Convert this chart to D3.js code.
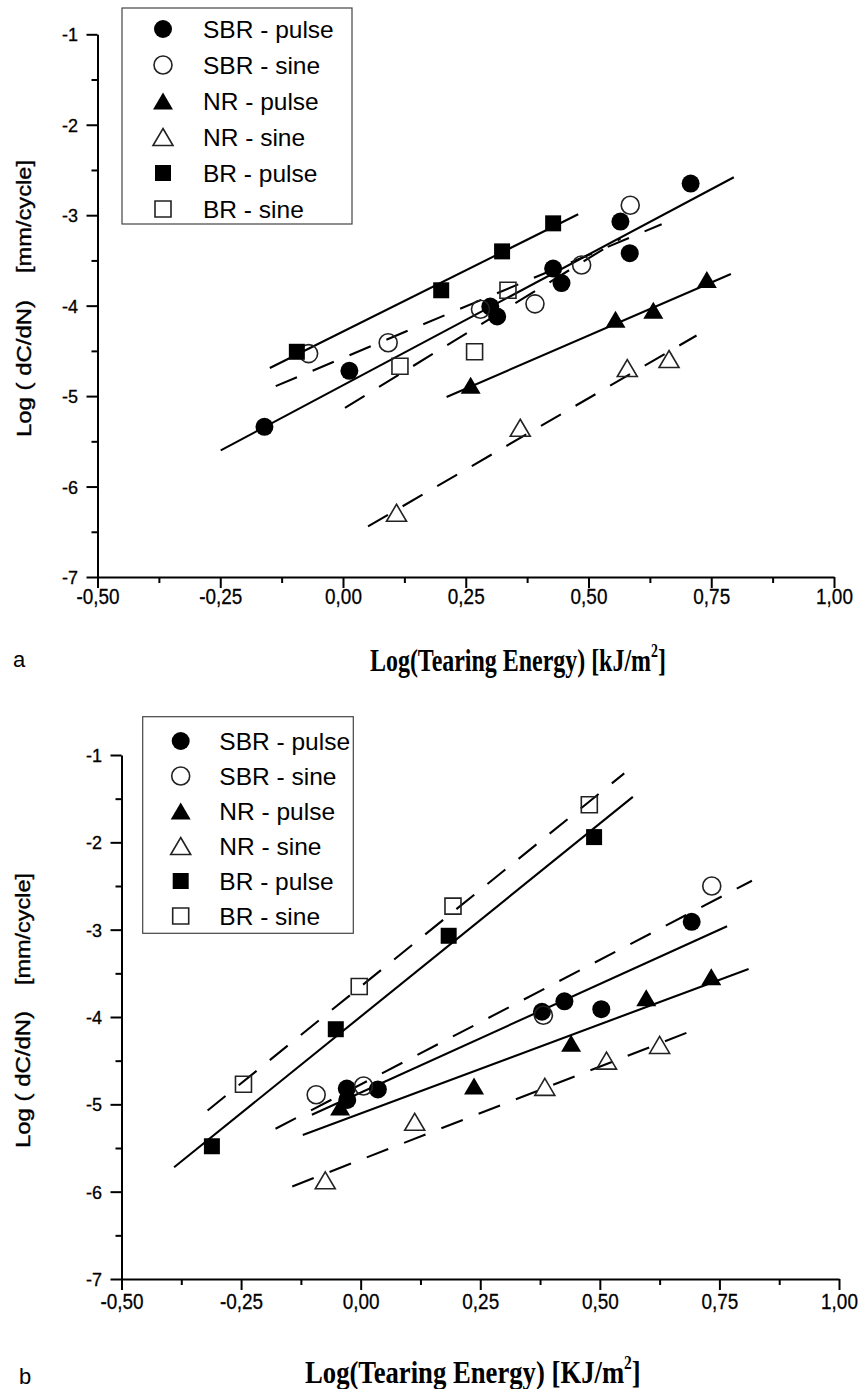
<!DOCTYPE html>
<html><head><meta charset="utf-8">
<script src="https://cdn.jsdelivr.net/npm/d3@7"></script>
<style>body{margin:0;background:#fff} svg{display:block}</style>
</head><body>
<svg id="chart" width="858" height="1389"></svg>
<script>
// ---------- series definitions ----------
const seriesNames  = ["SBR - pulse","SBR - sine","NR - pulse","NR - sine","BR - pulse","BR - sine"];
const seriesShapes = ["circle","circle","triangle","triangle","square","square"];
const seriesFilled = [true,false,true,false,true,false];
const seriesDashed = [false,true,false,true,false,true];

// ---------- axis ticks ----------
const xTicks = [-0.5,-0.25,0,0.25,0.5,0.75,1.0];
const xMinorTicks = [-0.375,-0.125,0.125,0.375,0.625,0.875];
const yTicks = [-7,-6,-5,-4,-3,-2,-1];
const yMinorTicks = [-6.5,-5.5,-4.5,-3.5,-2.5,-1.5];

// ---------- panel a data [log TE, log dC/dN] ----------
const aSBRpulse = [[-0.160,-5.34],[0.013,-4.72],[0.300,-4.01],[0.314,-4.12],[0.428,-3.59],[0.445,-3.75],[0.565,-3.07],[0.584,-3.42],[0.708,-2.65]];
const aSBRsine  = [[-0.070,-4.53],[0.092,-4.41],[0.280,-4.04],[0.391,-3.98],[0.486,-3.55],[0.585,-2.89]];
const aNRpulse  = [[0.260,-4.88],[0.555,-4.15],[0.632,-4.05],[0.741,-3.71]];
const aNRsine   = [[0.109,-6.29],[0.361,-5.35],[0.579,-4.69],[0.664,-4.59]];
const aBRpulse  = [[-0.094,-4.51],[0.200,-3.83],[0.324,-3.40],[0.428,-3.09]];
const aBRsine   = [[0.116,-4.67],[0.268,-4.51],[0.336,-3.83]];
// fitted lines [x0,y0,x1,y1]
const aFitSBRpulse = [-0.249,-5.60,0.796,-2.58];
const aFitSBRsine  = [-0.137,-4.89,0.649,-3.10];
const aFitNRpulse  = [0.211,-5.01,0.790,-3.65];
const aFitNRsine   = [0.051,-6.44,0.720,-4.33];
const aFitBRpulse  = [-0.149,-4.69,0.479,-2.99];
const aFitBRsine   = [0.004,-5.13,0.565,-3.26];

// ---------- panel b data ----------
const bSBRpulse = [[-0.029,-4.82],[-0.028,-4.95],[0.036,-4.83],[0.379,-3.94],[0.426,-3.82],[0.503,-3.91],[0.692,-2.91]];
const bSBRsine  = [[-0.093,-4.89],[0.006,-4.79],[0.382,-3.98],[0.734,-2.50]];
const bNRpulse  = [[-0.043,-5.03],[0.237,-4.79],[0.440,-4.30],[0.597,-3.78],[0.733,-3.54]];
const bNRsine   = [[-0.074,-5.87],[0.113,-5.20],[0.385,-4.80],[0.514,-4.50],[0.625,-4.32]];
const bBRpulse  = [[-0.311,-5.48],[-0.052,-4.14],[0.184,-3.07],[0.488,-1.94]];
const bBRsine   = [[-0.245,-4.77],[-0.003,-3.65],[0.193,-2.73],[0.478,-1.57]];
const bFitSBRpulse = [-0.102,-5.12,0.766,-2.96];
const bFitSBRsine  = [-0.178,-5.28,0.818,-2.44];
const bFitNRpulse  = [-0.121,-5.35,0.811,-3.45];
const bFitNRsine   = [-0.143,-5.94,0.696,-4.15];
const bFitBRpulse  = [-0.390,-5.72,0.569,-1.48];
const bFitBRsine   = [-0.320,-5.07,0.551,-1.21];

const svg = d3.select("#chart");
const SANS = "'Liberation Sans', Arial, Helvetica, sans-serif";
const SERIF = "'Liberation Serif', 'Times New Roman', serif";

function markerPath(shape){
  if (shape === "circle") return d3.symbol().type(d3.symbolCircle).size(Math.PI*9*9)();
  if (shape === "square") return d3.symbol().type(d3.symbolSquare).size(16*16)();
  const w = 20, h = 17;
  return `M0,${-h/2}L${w/2},${h/2}L${-w/2},${h/2}Z`;
}
function styleMarker(sel, i){
  if (seriesFilled[i]) sel.attr("fill","#000").attr("stroke","none");
  else sel.attr("fill","none").attr("stroke","#222").attr("stroke-width",1.6);
}
const fmtX = d => (d < 0 ? "-" : "") + Math.abs(d).toFixed(2).replace(".", ",");
const fmtY = d => String(d);

function drawPanel(p){
  const x = d3.scaleLinear().domain([-0.5,1.0]).range(p.xr);
  const y = d3.scaleLinear().domain([-7,-1]).range(p.yr);
  const g = svg.append("g");

  // fit lines
  p.fits.forEach((f,i)=>{
    g.append("line")
      .attr("x1",x(f[0])).attr("y1",y(f[1])).attr("x2",x(f[2])).attr("y2",y(f[3]))
      .attr("stroke","#000").attr("stroke-width",2.1)
      .attr("stroke-dasharray", seriesDashed[i] ? "23,17" : null);
  });
  // markers
  p.points.forEach((pts,i)=>{
    g.append("g").selectAll("path").data(pts).join("path")
      .attr("d", markerPath(seriesShapes[i]))
      .attr("transform", d=>`translate(${x(d[0])},${y(d[1])})`)
      .call(styleMarker, i);
  });

  // x axis
  const gx = g.append("g").attr("transform",`translate(0,${p.yr[0]})`)
    .call(d3.axisBottom(x).tickValues(xTicks).tickSize(11).tickSizeOuter(0).tickFormat(fmtX));
  gx.select(".domain").attr("stroke-width",2);
  gx.selectAll(".tick line").attr("stroke-width",2);
  gx.selectAll(".tick text").attr("y",p.xLabelDy).attr("dy",null)
    .attr("font-size",22).attr("font-family",SANS).attr("fill","#000")
    .attr("stroke","#000").attr("stroke-width",0.3)
    .attr("transform","scale(0.86,1)");
  const gxm = g.append("g").attr("transform",`translate(0,${p.yr[0]})`)
    .call(d3.axisBottom(x).tickValues(xMinorTicks).tickSize(6).tickFormat(""));
  gxm.select(".domain").remove();
  gxm.selectAll(".tick line").attr("stroke-width",2);

  // y axis
  const gy = g.append("g").attr("transform",`translate(${p.xr[0]},0)`)
    .call(d3.axisLeft(y).tickValues(yTicks).tickSize(11).tickSizeOuter(0).tickPadding(8.5).tickFormat(fmtY));
  gy.select(".domain").attr("stroke-width",2);
  gy.selectAll(".tick line").attr("stroke-width",2);
  gy.selectAll(".tick text").attr("font-size",18).attr("font-family",SANS).attr("fill","#000")
    .attr("stroke","#000").attr("stroke-width",0.3).attr("dy","0.36em");
  const gym = g.append("g").attr("transform",`translate(${p.xr[0]},0)`)
    .call(d3.axisLeft(y).tickValues(yMinorTicks).tickSize(6).tickFormat(""));
  gym.select(".domain").remove();
  gym.selectAll(".tick line").attr("stroke-width",2);

  // legend
  const L = p.legend;
  g.append("rect").attr("x",L.x0).attr("y",L.y0).attr("width",L.x1-L.x0).attr("height",L.y1-L.y0)
    .attr("fill","#fff").attr("stroke","#444").attr("stroke-width",1.2);
  seriesNames.forEach((name,i)=>{
    const cy = L.row0 + i*L.step;
    g.append("path").attr("d",markerPath(seriesShapes[i]))
      .attr("transform",`translate(${L.mx},${cy})`).call(styleMarker,i);
    g.append("text").attr("x",L.tx).attr("y",cy+9).text(name)
      .attr("font-size",24.5).attr("font-family",SANS).attr("fill","#000");
  });

  // y title (rotated)
  p.yTitle.forEach(t=>{
    g.append("text").attr("transform",`translate(${t.bx},${t.sy}) rotate(-90)`)
      .attr("font-size",21).attr("font-family",SANS).attr("fill","#000")
      .attr("stroke","#000").attr("stroke-width",0.4)
      .attr("textLength",t.len).attr("lengthAdjust","spacingAndGlyphs")
      .text(t.txt);
  });

  // x title
  const xt = g.append("text").attr("font-family",SERIF).attr("font-weight","bold")
    .attr("font-size",31).attr("fill","#000");
  xt.append("tspan").text(p.xTitle);
  xt.append("tspan").attr("font-size",18).attr("dy",-14).text("2");
  xt.append("tspan").attr("dy",14).text("]");
  const w = xt.node().getBBox().width;
  xt.attr("transform",`translate(${p.xTitleX0},${p.xTitleBase}) scale(${p.xTitleW / w},1)`);

  // panel letter
  g.append("text").attr("x",p.letterX).attr("y",p.letterY).text(p.letter)
    .attr("font-size",22).attr("font-family",SANS).attr("fill","#000");
}

drawPanel({
  xr:[97.5,834], yr:[577,34.3], xLabelDy:27,
  points:[aSBRpulse,aSBRsine,aNRpulse,aNRsine,aBRpulse,aBRsine],
  fits:[aFitSBRpulse,aFitSBRsine,aFitNRpulse,aFitNRsine,aFitBRpulse,aFitBRsine],
  legend:{x0:122,y0:8,x1:352,y1:224,mx:163,tx:203,row0:29,step:36},
  yTitle:[{txt:"Log ( dC/dN)",bx:31,sy:437,len:137},{txt:"[mm/cycle]",bx:31,sy:273,len:113}],
  xTitle:"Log(Tearing Energy) [kJ/m", xTitleX0:370, xTitleBase:671, xTitleW:296,
  letter:"a", letterX:13, letterY:667
});
drawPanel({
  xr:[121.5,839], yr:[1279,755], xLabelDy:30,
  points:[bSBRpulse,bSBRsine,bNRpulse,bNRsine,bBRpulse,bBRsine],
  fits:[bFitSBRpulse,bFitSBRsine,bFitNRpulse,bFitNRsine,bFitBRpulse,bFitBRsine],
  legend:{x0:142.7,y0:716.7,x1:353.3,y1:933.3,mx:180.7,tx:219.3,row0:741,step:35},
  yTitle:[{txt:"Log ( dC/dN)",bx:30,sy:1148,len:137},{txt:"[mm/cycle]",bx:30,sy:985,len:112}],
  xTitle:"Log(Tearing Energy) [KJ/m", xTitleX0:305, xTitleBase:1383, xTitleW:336,
  letter:"b", letterX:19, letterY:1384
});
</script>
</body></html>
